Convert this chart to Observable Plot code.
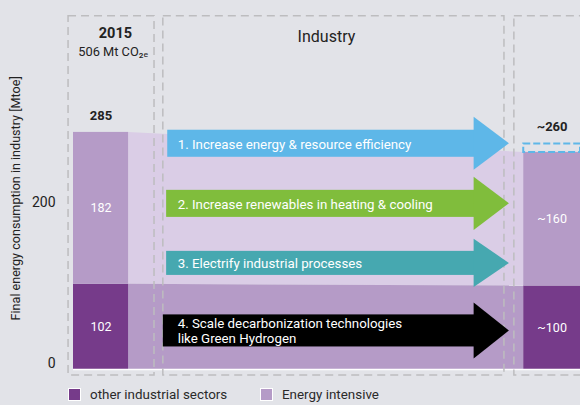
<!DOCTYPE html>
<html><head><meta charset="utf-8">
<script src="https://cdn.jsdelivr.net/npm/d3@7"></script>
<script src="https://cdn.jsdelivr.net/npm/@observablehq/plot@0.6"></script>
<style>
html,body{margin:0;padding:0;background:#e2e3e8;overflow:hidden;width:580px;height:405px;font-family:Roboto,"Noto Sans",sans-serif}
#legend{position:relative;height:23px;width:580px}
.item{position:absolute;top:5px;display:flex;align-items:center;font-size:13.4px;color:#2a2a2a}
.sw{width:13px;height:13px;box-sizing:border-box;border:1px solid #fff;margin-right:9px}
</style></head><body>
<div id="chart"></div>
<div id="legend"></div>
<script>
// ---- data ----
const years = ["2015", "2030"];
const otherIndustrial = [102, 100];
const energyIntensive = [182, 160];
const otherLabels = ["102", "~100"];
const intensiveLabels = ["182", "~160"];
const totalLabels = ["285", "~260"];
const uncertainty = [0, 10];
const measures = [
  "1. Increase energy & resource efficiency",
  "2. Increase renewables in heating & cooling",
  "3. Electrify industrial processes",
  "4. Scale decarbonization technologies\nlike Green Hydrogen"
];
const yTicks = [0, 200];
const seriesNames = ["other industrial sectors", "Energy intensive"];

// ---- styles / layout ----
const C = {bg:"#e2e3e8", dark:"#763b8a", mid:"#b59bc7", light:"#dacde6", dash:"#bdbdbf", text:"#222"};
const measureColors = ["#5eb7e8", "#80bd3c", "#46a8b0", "#000000"];
const barX = [[0, 1], [8.17, 9.2]];
const arrowLayout = [
  {y:270.4, body:16.2, head:31.8, x1:1.71},
  {y:198.4, body:16.2, head:31.8, x1:1.69},
  {y:127.1, body:14.4, head:28.8, x1:1.69},
  {y:46.2,  body:19.2, head:33.6, x1:1.63}
];
const headX = 7.27, tipX = 7.91, textX = 1.89;

const bars = years.map((yr, i) => ({
  yr, x1: barX[i][0], x2: barX[i][1], xm: (barX[i][0]+barX[i][1])/2,
  other: otherIndustrial[i], inten: energyIntensive[i],
  total: otherIndustrial[i] + energyIntensive[i], unc: uncertainty[i], label: totalLabels[i]
}));
const segs = bars.flatMap((b, i) => [
  {x1:b.x1, x2:b.x2, xm:b.xm, y1:0, y2:b.other, fill:C.dark, label:otherLabels[i]},
  {x1:b.x1, x2:b.x2, xm:b.xm, y1:b.other, y2:b.total, fill:C.mid, label:intensiveLabels[i]}
]);
const upperBand = [
  {x: bars[0].x2, y1: bars[0].other, y2: bars[0].total},
  {x: bars[1].x1, y1: bars[1].other, y2: bars[1].total}
];
const lowerBand = [
  {x: bars[0].x2, y1: 0, y2: bars[0].other},
  {x: bars[1].x1, y1: 0, y2: bars[1].other}
];
const arrows = measures.map((m, i) => ({m, color: measureColors[i], ...arrowLayout[i]}));
const heads = arrows.flatMap((a, i) => [
  {i, color:a.color, x: headX, y1: a.y - a.head, y2: a.y + a.head},
  {i, color:a.color, x: tipX, y1: a.y, y2: a.y}
]);
const boxes = [
  {x1:-0.09, x2:1.47, y1:-7.2, y2:423},
  {x1:1.63, x2:7.82, y1:-7.2, y2:423},
  {x1:8.0, x2:9.6, y1:-7.2, y2:423}
];

const chart = Plot.plot({
  width: 580, height: 382,
  marginLeft: 73, marginRight: 0, marginTop: 0, marginBottom: 13,
  style: {background: C.bg, fontFamily: "Roboto, 'Noto Sans', sans-serif", overflow: "visible"},
  x: {domain: [0, 9.2], axis: null},
  y: {domain: [0, 442], axis: null},
  marks: [
    Plot.areaY(upperBand, {x:"x", y1:"y1", y2:"y2", fill: C.light}),
    Plot.areaY(lowerBand, {x:"x", y1:"y1", y2:"y2", fill: C.mid}),
    Plot.rect(segs, {x1:"x1", x2:"x2", y1:"y1", y2:"y2", fill:"fill"}),
    Plot.ruleY([0], {x1: 0, x2: 9.2, stroke: "#fff", strokeWidth: 1.5}),
    Plot.rect(bars.filter(d => d.unc > 0), {x1:"x1", x2:"x2", y1: d => d.total, y2: d => d.total + d.unc, fill:"none", stroke: measureColors[0], strokeWidth: 2, strokeDasharray: "7,3"}),
    Plot.rect(boxes, {x1:"x1", x2:"x2", y1:"y1", y2:"y2", fill:"none", stroke: C.dash, strokeWidth: 1.5, strokeDasharray: "8,5"}),
    Plot.rect(arrows, {x1:"x1", x2: headX + 0.02, y1: d => d.y - d.body, y2: d => d.y + d.body, fill:"color"}),
    Plot.areaY(heads, {x:"x", y1:"y1", y2:"y2", z:"i", fill:"color"}),
    Plot.text(arrows, {x: textX, y:"y", text:"m", fill:"#fff", textAnchor:"start", fontSize: 13.3, lineHeight: 1.15}),
    Plot.text(segs, {x:"xm", y: d => (d.y1 + d.y2)/2, text:"label", fill:"#fff", fontSize: 12.5}),
    Plot.text(bars, {x:"xm", y: d => d.total + d.unc, text: "label", dy: -17, fill: C.text, fontSize: 13, fontWeight: "bold"}),
    Plot.text(["2015"], {x: 0.76, y: 403, text: d => d, fill: C.text, fontSize: 14.5, fontWeight: "bold"}),
    Plot.text(["506 Mt CO₂ₑ"], {x: 0.72, y: 380, text: d => d, fill: C.text, fontSize: 12.8}),
    Plot.text(["Industry"], {x: 4.59, y: 399, text: d => d, fill: C.text, fontSize: 16}),
    Plot.axisY([200], {anchor:"left", tickSize: 0, tickPadding: 18, fontSize: 14, label: null, color: C.text}),
    Plot.axisY([0], {anchor:"left", tickSize: 0, tickPadding: 18, fontSize: 14, label: null, dy: -6, color: C.text}),
    Plot.text(["Final energy consumption in industry [Mtoe]"], {x: -1.05, y: 205, text: d => d, rotate: -90, fill: C.text, fontSize: 12.6})
  ]
});
document.getElementById("chart").appendChild(chart);

const legend = document.getElementById("legend");
const legendColors = [C.dark, C.mid];
const legendLeft = [68, 260];
seriesNames.forEach((n, i) => {
  const d = document.createElement("div");
  d.className = "item";
  d.style.left = legendLeft[i] + "px";
  d.innerHTML = `<span class="sw" style="background:${legendColors[i]}"></span><span>${n}</span>`;
  legend.appendChild(d);
});
</script>
</body></html>
